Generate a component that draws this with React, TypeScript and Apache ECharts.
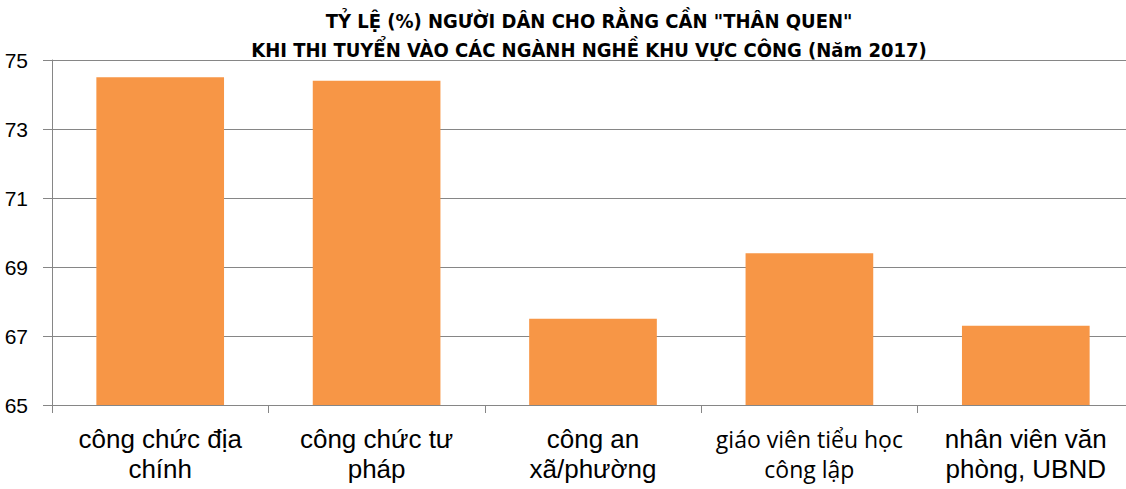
import React, { useEffect, useRef } from "react";
import * as echarts from "echarts";

const titleLines = [
  'TỶ LỆ (%) NGƯỜI DÂN CHO RẰNG CẦN "THÂN QUEN"',
  "KHI THI TUYỂN VÀO CÁC NGÀNH NGHỀ KHU VỰC CÔNG (Năm 2017)",
];
const categories = [
  "công chức địa\nchính",
  "công chức tư\npháp",
  "công an\nxã/phường",
  "giáo viên tiểu học\ncông lập",
  "nhân viên văn\nphòng, UBND",
];
const smallLabelIndex = [3];
const values = [74.5, 74.4, 67.5, 69.4, 67.3];
const yMin = 65;
const yMax = 75;
const yInterval = 2;

export default function App() {
  const ref = useRef<HTMLDivElement>(null);
  useEffect(() => {
    if (!ref.current) return;
    const chart = echarts.init(ref.current, null, { renderer: "svg" });
    chart.setOption({
      animation: false,
      backgroundColor: "#ffffff",
      title: {
        text: titleLines.join("\n"),
        left: 584,
        top: 1,
        textAlign: "center",
        textStyle: {
          fontFamily: "'DejaVu Sans Condensed', 'DejaVu Sans', sans-serif",
          fontWeight: "bold",
          fontSize: 20,
          lineHeight: 29,
          color: "#000",
        },
      },
      grid: { left: 52, top: 60, width: 1082, height: 345 },
      xAxis: {
        type: "category",
        data: categories,
        axisLine: { lineStyle: { color: "#868686", width: 1 } },
        axisTick: { show: true, length: 8, lineStyle: { color: "#868686" } },
        axisLabel: {
          interval: 0,
          margin: 19,
          color: "#000",
          fontFamily: "'Liberation Sans', Arial, sans-serif",
          fontSize: 26,
          lineHeight: 30,
          formatter: (v: string, i: number) =>
            v
              .split("\n")
              .map((l) => (smallLabelIndex.includes(i) ? `{s|${l}}` : `{n|${l}}`))
              .join("\n"),
          rich: {
            n: { fontSize: 26, lineHeight: 30, fontFamily: "'Liberation Sans', Arial, sans-serif", color: "#000" },
            s: { fontSize: 23, lineHeight: 30, fontFamily: "'Open Sans', 'Liberation Sans', sans-serif", color: "#000" },
          },
        },
      },
      yAxis: {
        type: "value",
        min: yMin,
        max: yMax,
        interval: yInterval,
        axisLine: { show: true, lineStyle: { color: "#868686", width: 1 } },
        axisTick: { show: true, length: 9, lineStyle: { color: "#868686" } },
        splitLine: { lineStyle: { color: "#868686", width: 1 } },
        axisLabel: {
          margin: 24,
          color: "#000",
          fontFamily: "'Liberation Sans', Arial, sans-serif",
          fontSize: 21,
        },
      },
      series: [
        {
          type: "bar",
          data: values,
          barCategoryGap: "41%",
          itemStyle: { color: "#F79646" },
        },
      ],
    });
    return () => chart.dispose();
  }, []);
  return (
    <div style={{ position: "absolute", left: 0, top: 0, width: 1126, height: 489, overflow: "hidden" }}>
      <div ref={ref} style={{ width: 1140, height: 489 }} />
    </div>
  );
}
